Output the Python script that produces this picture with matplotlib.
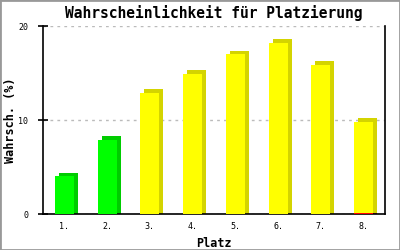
import matplotlib
matplotlib.use("Agg")
import matplotlib.pyplot as plt
from matplotlib.patches import Rectangle

plaetze = ["1.", "2.", "3.", "4.", "5.", "6.", "7.", "8."]
gruen = [4.0, 7.9, 0, 0, 0, 0, 0, 0]
gelb = [0, 0, 12.9, 14.9, 17.0, 18.2, 15.9, 9.7]
rot = [0, 0, 0, 0, 0, 0, 0, 0.1]

mono = "DejaVu Sans Mono"
fig = plt.figure(figsize=(4, 2.5), dpi=100)
ax = fig.add_axes([43 / 400, 36 / 250, 342 / 400, 188 / 250])

x = [i + 0.5 for i in range(len(plaetze))]
w = 19 / 42.75
dx = 4 / 42.75
dy = 3.5 / 9.4

# depth faces first, then fronts
serien = [(rot, "#ff0000", "#cc0000"), (gruen, "#00ff00", "#00cc00"),
          (gelb, "#ffff00", "#d4d400")]
unten = [0.0] * len(x)
for werte, farbe, dunkel in serien:
    for i, v in enumerate(werte):
        if v <= 0:
            continue
        ax.bar(x[i] + dx, v + dy, width=w, bottom=unten[i], color=dunkel,
               linewidth=0, zorder=2)
        ax.bar(x[i], v, width=w, bottom=unten[i], color=farbe,
               linewidth=0, zorder=3)
        unten[i] += v

ax.set_xlim(0, 8)
ax.set_ylim(0, 20)
ax.set_yticks([0, 10, 20])
ax.set_xticks(x)
ax.set_xticklabels(plaetze)
ax.yaxis.grid(True, color="#bbbbbb", linestyle=(0, (2, 3)), linewidth=1)
ax.set_axisbelow(True)
ax.spines["top"].set_visible(False)
for s in ["left", "right", "bottom"]:
    ax.spines[s].set_linewidth(1.2)
ax.tick_params(axis="y", direction="inout", length=7, width=1.2, pad=7,
               labelsize=6)
ax.tick_params(axis="x", length=0, pad=6, labelsize=6)
for lab in ax.get_xticklabels() + ax.get_yticklabels():
    lab.set_family(mono)

ax.set_title("Wahrscheinlichkeit für Platzierung", family=mono,
             fontweight="bold", fontsize=10.5, pad=6)
ax.set_xlabel("Platz", family=mono, fontweight="bold", fontsize=8.5, labelpad=4)
ax.set_ylabel("Wahrsch. (%)", family=mono, fontweight="bold", fontsize=8.5)
ax.yaxis.set_label_coords(-26 / 342, 0.5)

fig.patches.append(Rectangle((0, 0), 1, 1, transform=fig.transFigure,
                             fill=False, edgecolor="#999999", linewidth=2))
fig.savefig("out.png", dpi=100)
